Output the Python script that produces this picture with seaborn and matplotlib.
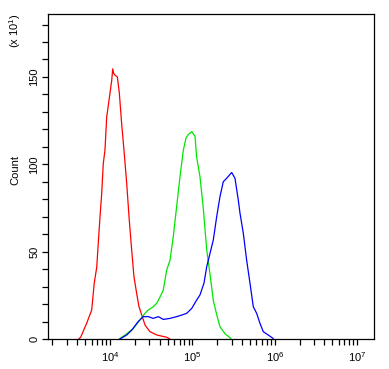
import numpy as np
import pandas as pd
import matplotlib
matplotlib.use("Agg")
import matplotlib.pyplot as plt
import seaborn as sns
from matplotlib.ticker import LogLocator, NullFormatter, FixedLocator, MultipleLocator

# log10 of fluorescence intensity, count (x10)
red_log = [3.62, 3.644, 3.717, 3.778, 3.809, 3.839, 3.858, 3.879, 3.899, 3.919, 3.939, 3.960,
           4.000, 4.021, 4.033, 4.045, 4.061, 4.089, 4.113, 4.142, 4.170, 4.203, 4.231, 4.263,
           4.291, 4.324, 4.352, 4.392, 4.425, 4.485, 4.567, 4.688, 4.728]
red_cnt = [0, 1, 9, 16.6, 32, 41, 55, 70, 83, 100.6, 108, 127,
           140.7, 148, 154.6, 152, 151, 150, 141, 123, 108, 89, 70, 51,
           35.7, 26, 18.5, 12.8, 8, 4.2, 2.3, 1, 0]

green_log = [4.113, 4.203, 4.283, 4.364, 4.425, 4.465, 4.525, 4.567, 4.607, 4.647, 4.688, 4.728,
             4.768, 4.809, 4.850, 4.890, 4.922, 4.950, 4.992, 5.032, 5.052, 5.092, 5.132, 5.174,
             5.214, 5.254, 5.295, 5.335, 5.396, 5.468]
green_cnt = [0, 3, 6, 11, 14.7, 16.6, 18.5, 20.4, 24, 28, 39.5, 45,
             58.6, 75.8, 93, 108, 115, 117, 118.7, 116, 104, 93, 75, 51,
             37, 22, 14, 7, 3, 0.3]

blue_log = [4.121, 4.203, 4.263, 4.343, 4.404, 4.465, 4.525, 4.586, 4.647, 4.728, 4.809, 4.870,
            4.931, 4.992, 5.052, 5.092, 5.141, 5.174, 5.214, 5.254, 5.295, 5.335, 5.375, 5.416,
            5.477, 5.517, 5.557, 5.578, 5.618, 5.659, 5.699, 5.739, 5.780, 5.820, 5.860, 5.920, 5.982]
blue_cnt = [0, 2.3, 5, 10, 12.8, 12.8, 11.8, 12.8, 11.2, 11.8, 12.8, 13.7,
            14.7, 17.5, 22.3, 25.2, 32, 41.4, 49, 56.7, 70, 81.5, 90, 92,
            95.3, 92, 79.6, 72, 60.5, 45, 32, 18.5, 14.7, 9, 4.2, 2.3, 0.3]

series = [("red", red_log, red_cnt, "#ff0000"),
          ("green", green_log, green_cnt, "#00e600"),
          ("blue", blue_log, blue_cnt, "#0000ff")]

sns.set_style("ticks")
plt.rcParams['font.family'] = ['Liberation Sans', 'DejaVu Sans']
plt.rcParams['mathtext.fontset'] = 'custom'
plt.rcParams['mathtext.rm'] = 'Liberation Sans'
plt.rcParams['text.color'] = 'black'

fig = plt.figure(figsize=(3.89, 3.69), dpi=100)
ax = fig.add_axes([0.1226, 0.0813, 0.8388, 0.8807])

for name, lx, cnt, color in series:
    df = pd.DataFrame({"intensity": 10 ** np.array(lx), "count": cnt})
    sns.lineplot(data=df, x="intensity", y="count", color=color, linewidth=0.9, ax=ax,
                 estimator=None, sort=False)

ax.set_xscale("log")
ax.set_xlim(10 ** 3.244, 10 ** 7.204)
ax.set_ylim(0, 186)

ax.xaxis.set_major_locator(FixedLocator([1e4, 1e5, 1e6, 1e7]))
ax.set_xticklabels(["$10^4$", "$10^5$", "$10^6$", "$10^7$"])
ax.xaxis.set_minor_locator(LogLocator(base=10, subs=np.arange(2, 10), numticks=20))
ax.xaxis.set_minor_formatter(NullFormatter())

ax.yaxis.set_major_locator(FixedLocator([0, 50, 100, 150]))
ax.yaxis.set_minor_locator(MultipleLocator(10))
for lbl in ax.get_yticklabels():
    lbl.set_rotation(90)
    lbl.set_va("center")

ax.tick_params(axis="both", which="both", direction="out", length=4, width=0.9,
               color="black", labelcolor="black", labelsize=8, pad=2)
ax.tick_params(axis="x", pad=4)
for s in ax.spines.values():
    s.set_visible(True)
    s.set_linewidth(0.9)
    s.set_color("black")

ax.set_xlabel("")
ax.set_ylabel("Count", fontsize=8, color="black")
ax.yaxis.set_label_coords(-0.085, 0.52)
fig.text(0.04, 0.916, "(x 10$^1$)", rotation=90, fontsize=8, ha="center", va="center",
         color="black")

fig.savefig("out.png", dpi=100, facecolor="white")
